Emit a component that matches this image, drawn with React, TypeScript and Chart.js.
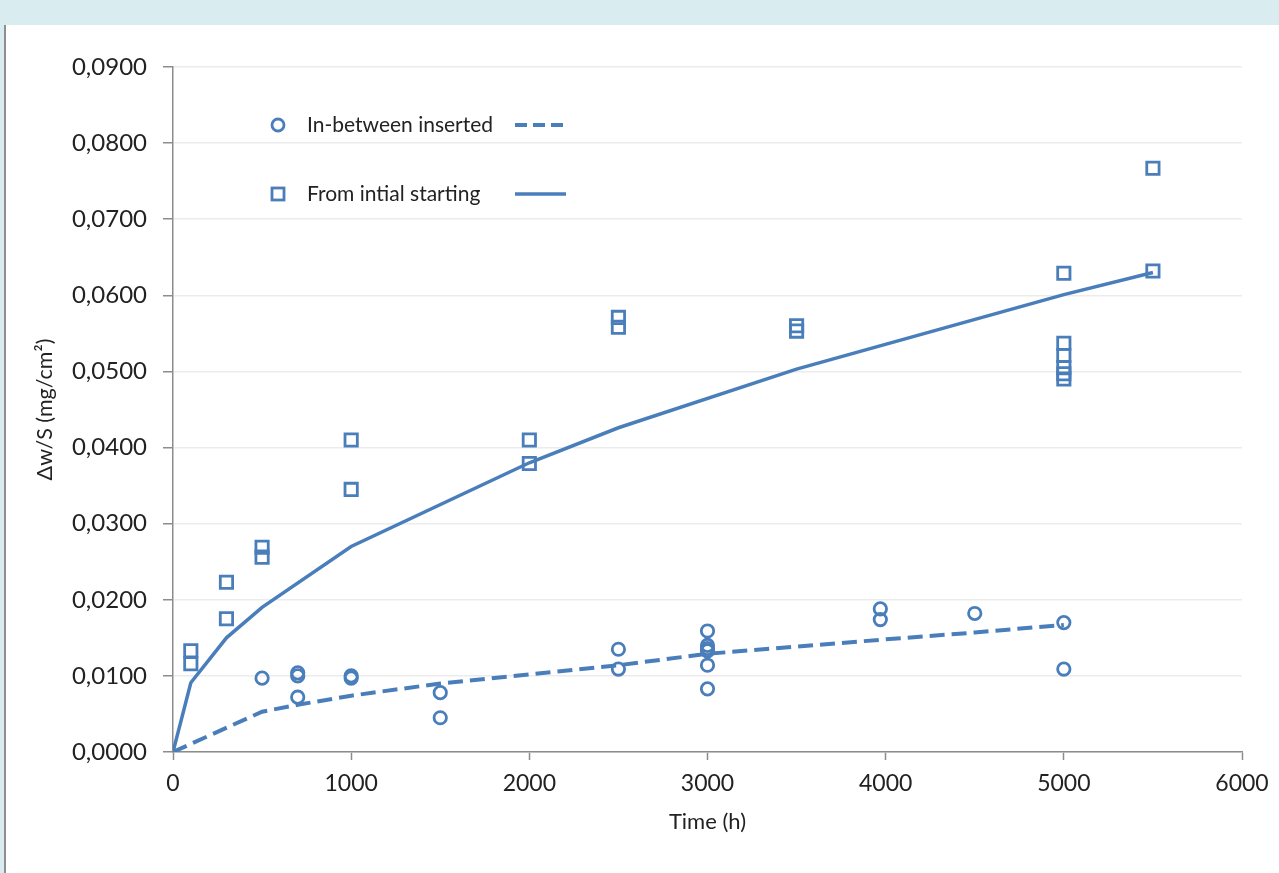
import React, { useEffect, useRef } from "react";
import { Chart, registerables } from "chart.js";

Chart.register(...registerables);

const BLUE = "#4a7ebb";
const FONT = "Lato, 'Open Sans', sans-serif";

const xTicks = [0, 1000, 2000, 3000, 4000, 5000, 6000];
const yTicks = [0, 0.01, 0.02, 0.03, 0.04, 0.05, 0.06, 0.07, 0.08, 0.09];

const circleX = [500, 700, 700, 700, 1000, 1000, 1500, 1500, 2500, 2500, 3000, 3000, 3000, 3000, 3000, 3000, 3970, 3970, 4500, 5000, 5000];
const circleY = [0.0097, 0.0104, 0.01, 0.0072, 0.01, 0.0097, 0.0078, 0.0045, 0.0135, 0.0109, 0.0159, 0.014, 0.0136, 0.0133, 0.0114, 0.0083, 0.0188, 0.0174, 0.0182, 0.017, 0.0109];

const squareX = [100, 100, 300, 300, 500, 500, 1000, 1000, 2000, 2000, 2500, 2500, 3500, 3500, 5000, 5000, 5000, 5000, 5000, 5000, 5500, 5500];
const squareY = [0.0133, 0.0116, 0.0223, 0.0175, 0.0269, 0.0256, 0.041, 0.0345, 0.041, 0.0379, 0.0571, 0.0558, 0.056, 0.0553, 0.0629, 0.0537, 0.0521, 0.0505, 0.0497, 0.049, 0.0767, 0.0632];

const dashedX = [0, 500, 700, 1000, 1500, 2500, 3000, 4000, 4500, 5000];
const dashedY = [0, 0.0053, 0.0062, 0.0074, 0.009, 0.0114, 0.0129, 0.0148, 0.0157, 0.0167];

const solidX = [0, 100, 300, 500, 1000, 2000, 2500, 3500, 5000, 5500];
const solidY = [0, 0.0091, 0.015, 0.019, 0.027, 0.038, 0.0426, 0.0503, 0.0601, 0.063];

const legendLabels = ["In-between inserted", "From intial starting"];
const xTitle = "Time (h)";
const yTitle = "Δw/S (mg/cm²)";

const zip = (xs: number[], ys: number[]) => xs.map((x, i) => ({ x, y: ys[i] }));

const legendPlugin = {
  id: "customLegend",
  afterDraw(chart: any) {
    const ctx = chart.ctx as CanvasRenderingContext2D;
    ctx.save();
    ctx.strokeStyle = BLUE;
    ctx.fillStyle = "#222";
    ctx.font = `21px ${FONT}`;
    ctx.textBaseline = "middle";
    const y1 = 125;
    const y2 = 194;
    ctx.lineWidth = 2.8;
    ctx.beginPath();
    ctx.arc(278, y1, 6, 0, Math.PI * 2);
    ctx.stroke();
    ctx.fillText(legendLabels[0], 307, y1);
    ctx.lineWidth = 4;
    ctx.setLineDash([12, 6]);
    ctx.beginPath();
    ctx.moveTo(515, y1);
    ctx.lineTo(566, y1);
    ctx.stroke();
    ctx.setLineDash([]);
    ctx.lineWidth = 2.8;
    ctx.strokeRect(272, y2 - 6, 12, 12);
    ctx.fillText(legendLabels[1], 307, y2);
    ctx.lineWidth = 3.5;
    ctx.beginPath();
    ctx.moveTo(515, y2);
    ctx.lineTo(566, y2);
    ctx.stroke();
    ctx.restore();
  },
};

export default function App() {
  const ref = useRef<HTMLCanvasElement | null>(null);

  useEffect(() => {
    document.body.style.margin = "0";
    if (!ref.current) return;
    const chart = new Chart(ref.current, {
      type: "scatter",
      data: {
        datasets: [
          {
            label: legendLabels[0],
            data: zip(circleX, circleY),
            pointStyle: "circle",
            pointRadius: 6.2,
            pointBorderWidth: 2.8,
            borderColor: BLUE,
            backgroundColor: "rgba(0,0,0,0)",
            showLine: false,
          },
          {
            label: legendLabels[1],
            data: zip(squareX, squareY),
            pointStyle: "rect",
            pointRadius: 8.7,
            pointBorderWidth: 2.8,
            borderColor: BLUE,
            backgroundColor: "rgba(0,0,0,0)",
            showLine: false,
          },
          {
            label: "dashed fit",
            data: zip(dashedX, dashedY),
            showLine: true,
            pointRadius: 0,
            borderColor: BLUE,
            borderWidth: 4,
            borderDash: [15, 7],
            fill: false,
          },
          {
            label: "solid fit",
            data: zip(solidX, solidY),
            showLine: true,
            pointRadius: 0,
            borderColor: BLUE,
            borderWidth: 3.5,
            fill: false,
          },
        ],
      },
      options: {
        responsive: false,
        animation: false,
        layout: { padding: { top: 67, right: 37, bottom: 0, left: 0 } },
        plugins: { legend: { display: false }, tooltip: { enabled: false } },
        scales: {
          x: {
            type: "linear",
            min: 0,
            max: 6000,
            afterBuildTicks: (s: any) => {
              s.ticks = xTicks.map((v) => ({ value: v }));
            },
            afterFit: (s: any) => {
              s.height = 121;
            },
            ticks: {
              color: "#222",
              font: { family: FONT, size: 23 },
              padding: 10,
              maxRotation: 0,
              callback: (v: any) => String(v),
            },
            grid: {
              drawOnChartArea: false,
              tickLength: 8,
              tickColor: "#8c8c8c",
              tickWidth: 1.5,
            },
            border: { color: "#8c8c8c", width: 1.5 },
            title: {
              display: true,
              text: xTitle,
              color: "#222",
              font: { family: FONT, size: 22 },
              padding: { top: 0, bottom: 38 },
            },
          },
          y: {
            type: "linear",
            min: 0,
            max: 0.09,
            afterBuildTicks: (s: any) => {
              s.ticks = yTicks.map((v) => ({ value: v }));
            },
            afterFit: (s: any) => {
              s.width = 173;
            },
            ticks: {
              color: "#222",
              font: { family: FONT, size: 24 },
              padding: 16,
              callback: (v: any) => Number(v).toFixed(4).replace(".", ","),
            },
            grid: {
              color: "#ececec",
              lineWidth: 1.5,
              tickLength: 10,
              tickColor: "#8c8c8c",
              tickWidth: 1.5,
            },
            border: { color: "#8c8c8c", width: 1.5 },
            title: {
              display: true,
              text: yTitle,
              color: "#222",
              font: { family: FONT, size: 21.5 },
              padding: { top: 32, bottom: 0 },
            },
          },
        },
      },
      plugins: [legendPlugin],
    });
    return () => chart.destroy();
  }, []);

  return (
    <div style={{ position: "relative", width: 1279, height: 873, background: "#ffffff", overflow: "hidden" }}>
      <div style={{ position: "absolute", left: 0, top: 0, width: 1279, height: 25, background: "#d9edf0" }} />
      <div style={{ position: "absolute", left: 0, top: 25, width: 4, height: 848, background: "#d9edf0" }} />
      <div style={{ position: "absolute", left: 4, top: 25, width: 2, height: 848, background: "#8f8f8f" }} />
      <canvas ref={ref} width={1279} height={873} style={{ position: "absolute", left: 0, top: 0 }} />
    </div>
  );
}
